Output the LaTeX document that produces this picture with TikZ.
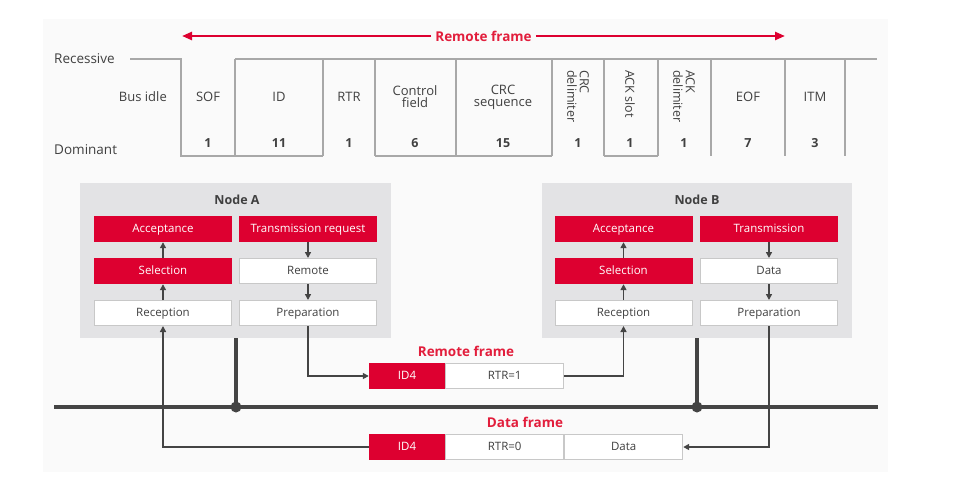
\documentclass[tikz,border=0pt]{standalone}
\usepackage{fontspec}
\setmainfont{Open Sans}
\usetikzlibrary{arrows.meta}
\definecolor{cred}{RGB}{221,0,48}
\definecolor{credtxt}{RGB}{226,30,60}
\definecolor{ctext}{RGB}{64,64,64}
\definecolor{cpanel}{RGB}{250,250,250}
\definecolor{cnode}{RGB}{227,227,229}
\definecolor{cwave}{RGB}{168,168,168}
\definecolor{cbord}{RGB}{200,200,200}
\definecolor{cbus}{RGB}{68,68,68}
\newcommand{\fs}[1]{\fontsize{#1}{#1}\selectfont}
\begin{document}
\begin{tikzpicture}[x=1pt,y=-1pt,
  every node/.style={text=ctext, font=\fs{11.5}},
  redbox/.style={fill=cred, text=white, minimum height=26pt, inner sep=0pt, minimum width=138pt, text height=8.5pt, text depth=2.5pt},
  whitebox/.style={fill=white, draw=cbord, line width=1pt, minimum height=25pt, inner sep=0pt, minimum width=137pt, text height=8.5pt, text depth=2.5pt},
  panelbox/.style={fill=cnode, minimum height=155pt, inner sep=0pt},
  panellabel/.style={font=\fs{12.5}\bfseries},
  wave/.style={draw=cwave, line width=1.4pt},
  toplabel/.style={font=\fs{13}, align=center},
  numlabel/.style={font=\fs{12.5}\bfseries},
  vlabel/.style={font=\fs{12.5}, align=left, rotate=-90, anchor=west, inner sep=0pt},
  conn/.style={draw=cbus, line width=1.7pt, -{Triangle[length=6pt,width=6pt]}},
  bus/.style={draw=cbus, line width=4pt},
  redarrow/.style={draw=cred, line width=2.4pt, -{Triangle[length=10pt,width=8pt]}},
  redlabel/.style={text=credtxt, font=\fs{13.5}\bfseries, inner sep=4pt},
]
\useasboundingbox (0,0) rectangle (953,483);
\fill[cpanel] (43,19) rectangle (888,472);

% ---- timing diagram ----
\node[font=\fs{13.5}, anchor=west, inner sep=0pt] (rec) at (54,59) {Recessive};
\node[font=\fs{13.5}, anchor=west, inner sep=0pt] (dom) at (54,150) {Dominant};
\node[toplabel, anchor=east, inner sep=0pt] (idle) at (167,97) {Bus idle};
\draw[wave] (130,59) -- (181,59) -- (181,156) -- (323,156);
\draw[wave] (235,59) -- (877,59);
\foreach \x in {235,323,375,456,552,604,658,711,785,845}
  \draw[wave] (\x,59) -- (\x,156);
\draw[wave] (375,156) -- (552,156);
\draw[wave] (604,156) -- (658,156);

\node[toplabel] (sof) at (208,97) {SOF};
\node[toplabel] (id) at (279,97) {ID};
\node[toplabel] (rtr) at (349,97) {RTR};
\node[toplabel] (ctl) at (415,97) {Control\\[-1pt]field};
\node[toplabel] (crc) at (503,97) {CRC\\[-1pt]sequence};
\node[vlabel] (crcd) at (578,70) {CRC\\delimiter};
\node[vlabel] (acks) at (630,70) {ACK slot};
\node[vlabel] (ackd) at (684,70) {ACK\\delimiter};
\node[toplabel] (eof) at (748,97) {EOF};
\node[toplabel] (itm) at (815,97) {ITM};

\node[numlabel] (n1) at (208,143) {1};
\node[numlabel] (n2) at (279,143) {11};
\node[numlabel] (n3) at (349,143) {1};
\node[numlabel] (n4) at (415,143) {6};
\node[numlabel] (n5) at (503,143) {15};
\node[numlabel] (n6) at (578,143) {1};
\node[numlabel] (n7) at (630,143) {1};
\node[numlabel] (n8) at (684,143) {1};
\node[numlabel] (n9) at (748,143) {7};
\node[numlabel] (n10) at (815,143) {3};

\node[redlabel] (rfl) at (483.5,36) {Remote frame};
\coordinate (rfL) at (182,36);
\coordinate (rfR) at (785,36);
\draw[redarrow] (rfl.west) -- (rfL);
\draw[redarrow] (rfl.east) -- (rfR);

% ---- node A ----
\node[panelbox, minimum width=311pt] (pA) at (235.5,260.5) {};
\node[panellabel] (tA) at (237,200) {Node A};
\node[redbox] (aAcc) at (163,229) {Acceptance};
\node[redbox] (aTx) at (308,229) {Transmission request};
\node[redbox] (aSel) at (163,271) {Selection};
\node[whitebox] (aRem) at (308,271) {Remote};
\node[whitebox] (aRec) at (163,313) {Reception};
\node[whitebox] (aPrep) at (308,313) {Preparation};
\draw[conn] (aRec) -- (aSel);
\draw[conn] (aSel) -- (aAcc);
\draw[conn] (aTx) -- (aRem);
\draw[conn] (aRem) -- (aPrep);

% ---- node B ----
\node[panelbox, minimum width=310pt] (pB) at (697,260.5) {};
\node[panellabel] (tB) at (697,200) {Node B};
\node[redbox] (bAcc) at (623.5,229) {Acceptance};
\node[redbox] (bTx) at (769,229) {Transmission};
\node[redbox] (bSel) at (623.5,271) {Selection};
\node[whitebox] (bDat) at (769,271) {Data};
\node[whitebox] (bRec) at (623.5,313) {Reception};
\node[whitebox] (bPrep) at (769,313) {Preparation};
\draw[conn] (bRec) -- (bSel);
\draw[conn] (bSel) -- (bAcc);
\draw[conn] (bTx) -- (bDat);
\draw[conn] (bDat) -- (bPrep);

% ---- bus ----
\coordinate (busL) at (54,407);
\coordinate (busR) at (878,407);
\coordinate (jA) at (236,407);
\coordinate (jB) at (697,407);
\draw[bus] (busL) -- (busR);
\draw[bus] (pA.south -| jA) -- (jA);
\draw[bus] (pB.south -| jB) -- (jB);
\fill[cbus] (jA) circle (5.5);
\fill[cbus] (jB) circle (5.5);

% ---- remote frame ----
\node[redlabel, inner sep=0pt] (rfLab) at (466,351) {Remote frame};
\node[redbox, minimum width=76pt, minimum height=26pt] (rID) at (407,376) {ID4};
\node[whitebox, minimum width=118pt, anchor=west] (rRTR) at (rID.east) {RTR=1};

% ---- data frame ----
\node[redlabel, inner sep=0pt] (dfLab) at (525,422) {Data frame};
\node[redbox, minimum width=76pt, minimum height=26pt] (dID) at (407,447) {ID4};
\node[whitebox, minimum width=118pt, anchor=west] (dRTR) at (dID.east) {RTR=0};
\node[whitebox, minimum width=118pt, anchor=west] (dDat) at (dRTR.east) {Data};

% ---- connectors ----
\draw[conn] (aPrep.south) |- (rID.west);
\draw[conn] (rRTR.east) -| (bRec.south);
\draw[conn] (bPrep.south) |- (dDat.east);
\draw[conn] (dID.west) -| (aRec.south);
\end{tikzpicture}
\end{document}
